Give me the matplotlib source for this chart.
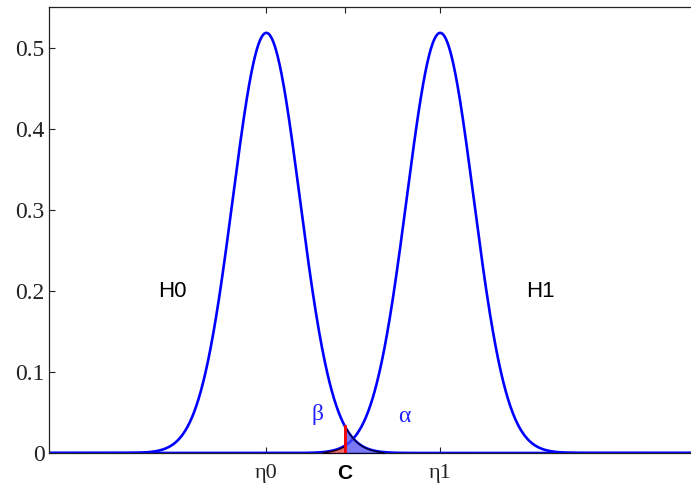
import numpy as np
import matplotlib
matplotlib.use("Agg")
import matplotlib.pyplot as plt

# values
MEANS = [0.0, 4.0]          # eta0, eta1
SIGMA = 0.77                # peak ~0.517
C_VALUE = 1.8
FILL_SPAN = 2.7             # shading stops where the tails reach ~0
X_LIMITS = [-5, 10]
Y_LIMITS = [0, 0.55]
Y_TICKS = [0, 0.1, 0.2, 0.3, 0.4, 0.5]
Y_TICK_LABELS = ["0", "0.1", "0.2", "0.3", "0.4", "0.5"]
X_TICKS = [MEANS[0], C_VALUE, MEANS[1]]
X_TICK_LABELS = ["\u03b70", "C", "\u03b71"]
CURVE_LABELS = ["H0", "H1"]
LABEL_POS = [(-2.17, 0.199), (6.31, 0.199)]
ERR_LABELS = ["\u03b2", "\u03b1"]
ERR_POS = [(1.18, 0.047), (3.18, 0.045)]

SERIF = "Liberation Serif"
SANS = "Liberation Sans"


def pdf(x, mu):
    return np.exp(-(x - mu) ** 2 / (2 * SIGMA ** 2)) / (SIGMA * np.sqrt(2 * np.pi))


fig = plt.figure(figsize=(6.91, 4.86), dpi=100)
# the original is cropped on the right, so the axes run past the canvas
ax = fig.add_axes([49 / 691, 33 / 486, 652 / 691, 446 / 486])

x = np.linspace(X_LIMITS[0], X_LIMITS[1], 3001)
for mu in MEANS:
    ax.plot(x, pdf(x, mu), color="#0000ff", lw=1.9, zorder=2)

# beta: H1 tail left of C, alpha: H0 tail right of C
xb = np.linspace(MEANS[1] - FILL_SPAN, C_VALUE, 200)
ax.fill_between(xb, 0, pdf(xb, MEANS[1]), facecolor="#f06a6a", edgecolor="#1a0010",
                lw=1.0, zorder=3)
xa = np.linspace(C_VALUE, MEANS[0] + FILL_SPAN, 200)
ax.fill_between(xa, 0, pdf(xa, MEANS[0]), facecolor=(0.3, 0.3, 0.96, 0.75),
                edgecolor="#000030", lw=1.0, zorder=3)
ax.plot([C_VALUE, C_VALUE], [0, pdf(C_VALUE, MEANS[0])], color="red", lw=2, zorder=4)

for (tx, ty), lab in zip(LABEL_POS, CURVE_LABELS):
    ax.text(tx, ty, lab, family=SANS, fontsize=16, ha="center", va="center", color="black")
for (tx, ty), lab in zip(ERR_POS, ERR_LABELS):
    ax.text(tx, ty, lab, family=SERIF, fontsize=17, ha="center", va="center", color="#2020ff")

ax.set_xlim(X_LIMITS)
ax.set_ylim(Y_LIMITS)
ax.set_yticks(Y_TICKS)
ax.set_yticklabels(Y_TICK_LABELS, family=SERIF, fontsize=17, color="#222222")
ax.set_xticks(X_TICKS)
ax.set_xticklabels(X_TICK_LABELS, family=SERIF, fontsize=16, color="#222222")
clab = ax.get_xticklabels()[1]
clab.set_family(SANS)
clab.set_fontweight("bold")
clab.set_fontsize(15)
clab.set_color("black")

ax.tick_params(direction="in", length=4, width=0.8, top=True, right=False, color="#222222")
ax.tick_params(axis="y", pad=3)
ax.tick_params(axis="x", pad=8)
for side in ["left", "top", "bottom"]:
    ax.spines[side].set_color("#222222")
    ax.spines[side].set_linewidth(0.9)
ax.spines["right"].set_visible(False)

fig.savefig("out.png", dpi=100)
